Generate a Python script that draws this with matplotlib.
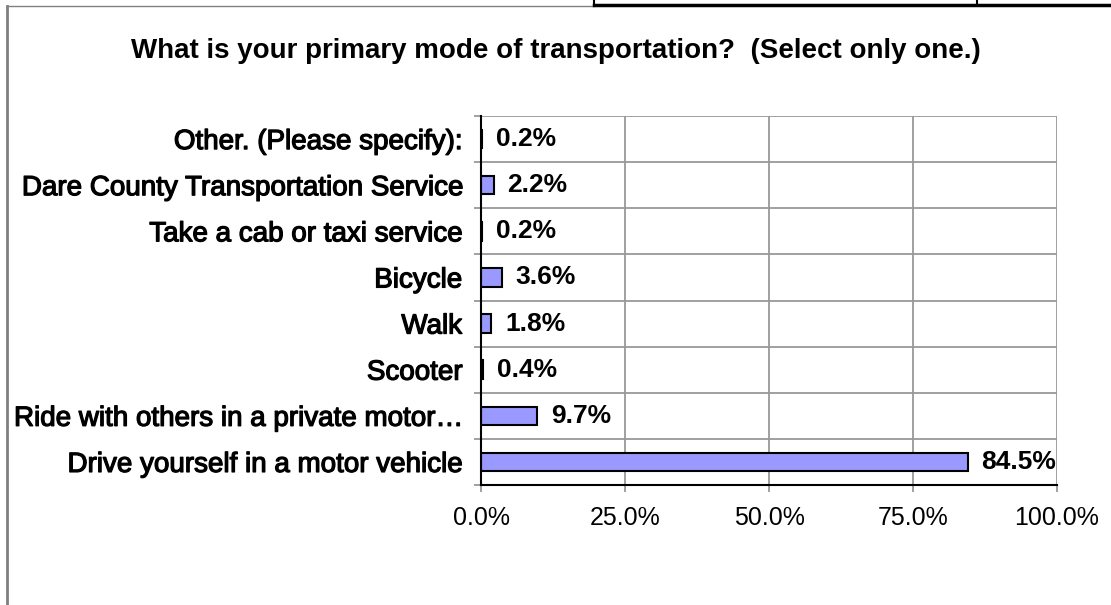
import matplotlib.pyplot as plt
import matplotlib.patheffects as pe
from matplotlib.lines import Line2D
from matplotlib.ticker import FixedLocator, PercentFormatter

# survey answers, bottom to top as drawn
categories = ['Drive yourself in a motor vehicle',
              'Ride with others in a private motor\u2026',
              'Scooter', 'Walk', 'Bicycle',
              'Take a cab or taxi service',
              'Dare County Transportation Service',
              'Other. (Please specify):']
shares = [84.5, 9.7, 0.4, 1.8, 3.6, 0.2, 2.2, 0.2]
xticks = [0, 25, 50, 75, 100]

plt.rcParams['font.family'] = ['Liberation Sans', 'DejaVu Sans']

fig = plt.figure(figsize=(11.11, 6.05), dpi=100)
ax = fig.add_axes([481/1111, 1-485/605, 576/1111, 369/605])

heavy = [pe.withStroke(linewidth=0.9, foreground='black')]

ypos = list(range(len(categories)))
ax.barh(ypos, shares, height=0.4, color='#9999ff', edgecolor='black', linewidth=1.5, zorder=3)
for y, v in zip(ypos, shares):
    ax.annotate('%.1f%%' % v, (v, y), xytext=(10, 0), textcoords='offset points',
                ha='left', va='center', fontsize=19, fontweight='bold')

ax.set_xlim(0, 100)
ax.set_ylim(-0.5, len(categories)-0.5)
ax.set_xticks(xticks)
ax.xaxis.set_major_formatter(PercentFormatter(decimals=1))
ax.set_yticks(ypos)
ax.set_yticklabels(categories, fontsize=20, path_effects=heavy)
ax.yaxis.set_minor_locator(FixedLocator([i-0.5 for i in range(len(categories)+1)]))
ax.tick_params(axis='y', which='major', length=0, pad=13.5)
ax.tick_params(axis='y', which='minor', length=5, color='#999999', width=1.3)
ax.tick_params(axis='x', length=5, color='#999999', width=1.3, labelsize=18, pad=10)
ax.grid(axis='x', color='#999999', linewidth=1.3, zorder=0)
ax.grid(axis='y', which='minor', color='#999999', linewidth=1.3, zorder=0)
for s in ['top', 'right']:
    ax.spines[s].set_visible(False)
for s in ['left', 'bottom']:
    ax.spines[s].set_linewidth(1.5)
    ax.spines[s].set_zorder(4)

fig.text(0.5, 1-58/605, 'What is your primary mode of transportation?  (Select only one.)',
         ha='center', va='baseline', fontsize=20, fontweight='bold')

# page frame around the chart and the table edge above it
fig.add_artist(Line2D([7/1111, 7/1111], [0, 1-6/605], color='#808080', linewidth=2))
fig.add_artist(Line2D([7/1111, 594/1111], [1-6/605, 1-6/605], color='#808080', linewidth=1))
fig.add_artist(Line2D([594/1111, 1], [1-5/605, 1-5/605], color='black', linewidth=2.5))
fig.add_artist(Line2D([594/1111, 594/1111], [1-5/605, 1], color='black', linewidth=1.5))
fig.add_artist(Line2D([977/1111, 977/1111], [1-5/605, 1], color='black', linewidth=1.5))

fig.savefig('out.png', dpi=100)
